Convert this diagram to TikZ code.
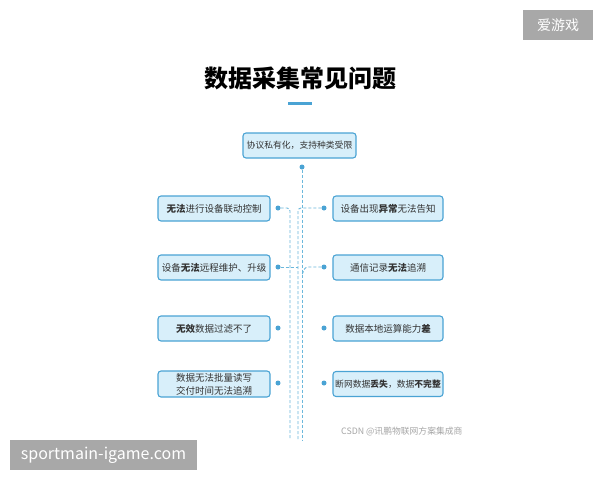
\documentclass[tikz,border=0pt]{standalone}
\usepackage{fontspec}
\setmainfont{Noto Sans CJK SC}
\newfontfamily\cjk{Noto Sans CJK SC}
\definecolor{boxfill}{HTML}{D8EFFA}
\definecolor{boxline}{HTML}{4AA3D4}
\definecolor{dashc}{HTML}{6BB8DC}
\definecolor{dotc}{HTML}{4AA3D4}
\definecolor{wmgray}{HTML}{A8A8A8}
\definecolor{txt}{HTML}{333333}
\tikzset{
  probbox/.style={draw=boxline, fill=boxfill, line width=1.1pt, rounded corners=3pt, minimum width=112pt, minimum height=25pt, inner sep=1pt, font=\cjk\fontsize{9.5}{13}\selectfont, text=txt, align=center},
  smalltext/.style={font=\cjk\fontsize{8.8}{12}\selectfont},
  dotn/.style={circle, fill=dotc, inner sep=0pt, minimum size=5pt},
  link/.style={draw=dashc, line width=0.9pt, dash pattern=on 3pt off 2pt, rounded corners=3pt},
  wm/.style={fill=wmgray, text=white, inner sep=0pt}
}
\begin{document}
\begin{tikzpicture}[x=1pt,y=-1pt]
\useasboundingbox (0,0) rectangle (600,480);
\fill[white] (0,0) rectangle (600,480);
% title
\node (title) at (300,78) {\cjk\bfseries\fontsize{24}{28}\selectfont 数据采集常见问题};
\fill[boxline] (288,102) rectangle (312,104.5);
% top
\node[probbox, smalltext, minimum width=113pt] (top) at (299.5,145.5) {协议私有化，支持种类受限};
% left boxes
\node[probbox] (l1) at (214,208.5) {\textbf{无法}进行设备联动控制};
\node[probbox] (l2) at (214,267.5) {设备\textbf{无法}远程维护、升级};
\node[probbox] (l3) at (214,328.5) {\textbf{无效}数据过滤不了};
\node[probbox, minimum height=26pt] (l4) at (214,384) {数据无法批量读写\\交付时间无法追溯};
% right boxes
\node[probbox, minimum width=110pt] (r1) at (388,208.5) {设备出现\textbf{异常}无法告知};
\node[probbox, minimum width=110pt] (r2) at (388,267.5) {通信记录\textbf{无法}追溯};
\node[probbox, minimum width=110pt] (r3) at (388,328.5) {数据本地运算能力\textbf{差}};
\node[probbox, smalltext, minimum width=110pt, inner sep=0.5pt] (r4) at (388,384) {断网数据\textbf{丢失}，数据\textbf{不完整}};
% dots
\node[dotn] (dt) at (302,167) {};
\node[dotn] (dl1) at (278,208) {};
\node[dotn] (dr1) at (324,208) {};
\node[dotn] (dl2) at (278,267) {};
\node[dotn] (dr2) at (324,267) {};
\node[dotn] (dl3) at (278,328) {};
\node[dotn] (dr3) at (324,328) {};
\node[dotn] (dl4) at (278,383) {};
\node[dotn] (dr4) at (324,383) {};
% bottom ends
\coordinate (e1) at (290,440);
\coordinate (e2) at (298,440);
\coordinate (e3) at (302,440);
% connectors
\draw[link] (dt) -- (e3);
\draw[link] (dl1) -- (290,208) -- (e1);
\draw[link] (dr1) -- (298,208) -- (e2);
\draw[link] (dl2) -- (298,267);
\draw[link] (dr2) -- (305,267) -- (302,275);
% watermarks
\node[text=gray!70, font=\cjk\fontsize{8.8}{10}\selectfont, anchor=east] (csdn) at (466,432) {CSDN @讯鹏物联网方案集成商};
\node[wm, minimum width=70pt, minimum height=30pt, font=\cjk\fontsize{14}{16}\selectfont] (wm1) at (558,25) {爱游戏};
\node[wm, minimum width=187pt, minimum height=30pt, font=\cjk\fontsize{16}{18}\selectfont] (wm2) at (103.5,455) {sportmain-igame.com};
\end{tikzpicture}
\end{document}
